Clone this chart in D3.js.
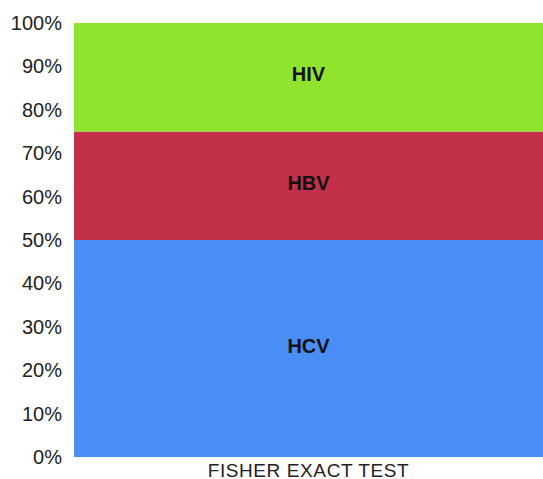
<!DOCTYPE html>
<html>
<head>
<meta charset="utf-8">
<script src="https://d3js.org/d3.v7.min.js"></script>
<style>
  body { margin: 0; background: #fff; }
  svg { display: block; font-family: "Liberation Sans", Arial, sans-serif; }
</style>
</head>
<body>
<svg id="chart" width="543" height="479"></svg>
<script>
  var categories = ["FISHER EXACT TEST"];
  var seriesNames = ["HCV", "HBV", "HIV"];
  var seriesValues = [50, 25, 25];
  var seriesColors = ["#4a8df4", "#c3304a", "#90e42e"];
  var yTicks = [0, 10, 20, 30, 40, 50, 60, 70, 80, 90, 100];

  var svg = d3.select("#chart"),
      margin = {top: 23, right: 0, bottom: 22, left: 74},
      width = +svg.attr("width") - margin.left - margin.right,
      height = +svg.attr("height") - margin.top - margin.bottom;

  var g = svg.append("g").attr("transform", "translate(" + margin.left + "," + margin.top + ")");

  var x = d3.scaleBand().domain(categories).range([0, width]).padding(0);
  var y = d3.scaleLinear().domain([0, 100]).range([height, 0]);

  // build stacked rows
  var row = {cat: categories[0]};
  seriesNames.forEach(function(s, i) { row[s] = seriesValues[i]; });
  var stacked = d3.stack().keys(seriesNames)([row]);

  var layer = g.selectAll(".layer")
    .data(stacked)
    .enter().append("g")
      .attr("class", "layer")
      .attr("fill", function(d, i) { return seriesColors[i]; });

  layer.selectAll("rect")
    .data(function(d) { return d; })
    .enter().append("rect")
      .attr("x", function(d) { return x(d.data.cat); })
      .attr("width", x.bandwidth())
      .attr("y", function(d) { return y(d[1]); })
      .attr("height", function(d) { return y(d[0]) - y(d[1]); });

  layer.selectAll("text")
    .data(function(d) { return d.map(function(v) { return {v: v, key: d.key}; }); })
    .enter().append("text")
      .attr("x", function(d) { return x(d.v.data.cat) + x.bandwidth() / 2; })
      .attr("y", function(d) { return (y(d.v[0]) + y(d.v[1])) / 2 - 3; })
      .attr("dy", "0.35em")
      .attr("text-anchor", "middle")
      .attr("fill", "#111")
      .style("font-weight", "bold")
      .style("font-size", "20px")
      .text(function(d) { return d.key; });

  var yAxis = g.append("g")
    .call(d3.axisLeft(y).tickValues(yTicks).tickSize(0).tickPadding(12)
      .tickFormat(function(d) { return d + "%"; }));
  yAxis.select(".domain").remove();
  yAxis.selectAll("text")
    .attr("fill", "#222")
    .style("font-size", "20px")
    .style("font-family", "'Liberation Sans', Arial, sans-serif");

  var xAxis = g.append("g")
    .attr("transform", "translate(0," + height + ")")
    .call(d3.axisBottom(x).tickSize(0));
  xAxis.select(".domain").remove();
  xAxis.selectAll("text")
    .attr("fill", "#222")
    .attr("y", 19.5)
    .attr("dy", 0)
    .style("font-size", "19px")
    .style("letter-spacing", "0.6px")
    .style("font-family", "'Liberation Sans', Arial, sans-serif");
</script>
</body>
</html>
